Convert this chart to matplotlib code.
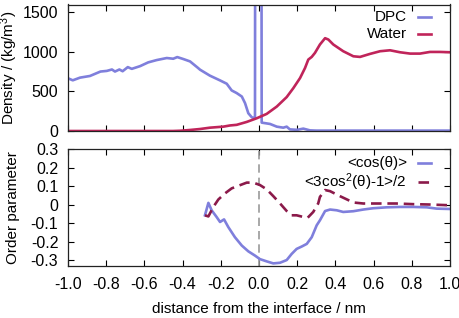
import matplotlib
matplotlib.use("Agg")
import matplotlib.pyplot as plt

plt.rcParams['font.family'] = ['Liberation Sans', 'DejaVu Sans']
plt.rcParams['mathtext.default'] = 'regular'
plt.rcParams['font.size'] = 11

# ---- data ----
dpc_x = [-1.0, -0.975, -0.937, -0.885, -0.83, -0.797, -0.77, -0.754, -0.731, -0.714,
         -0.687, -0.666, -0.623, -0.58, -0.536, -0.483, -0.449, -0.428, -0.396, -0.361,
         -0.318, -0.309, -0.257, -0.204, -0.169, -0.143, -0.117, -0.09, -0.073, -0.056,
         -0.038, -0.026, -0.021, -0.019, 0.012, 0.014, 0.058, 0.093, 0.127, 0.145,
         0.162, 0.2, 0.232, 0.267, 0.3, 0.4, 0.5, 0.6, 0.7, 0.8, 0.9, 1.0]
dpc_y = [667, 641, 675, 696, 752, 760, 778, 752, 778, 756,
         808, 786, 820, 868, 897, 923, 914, 935, 910, 880,
         795, 776, 700, 640, 598, 513, 480, 436, 352, 225,
         174, 162, 160, 5000, 5000, 106, 89, 55, 42, 55,
         20, 15, 30, 8, 5, 5, 5, 5, 5, 5, 5, 5]

water_x = [-1.0, -0.45, -0.414, -0.361, -0.309, -0.257, -0.187, -0.152, -0.117, -0.064,
           -0.012, 0.04, 0.093, 0.145, 0.18, 0.215, 0.241, 0.258, 0.276, 0.293,
           0.319, 0.346, 0.363, 0.389, 0.441, 0.494, 0.529, 0.581, 0.634, 0.686,
           0.738, 0.791, 0.843, 0.895, 0.948, 1.0]
water_y = [0, 0, 3, 13, 25, 42, 55, 70, 78, 115,
           161, 216, 309, 429, 543, 670, 797, 903, 937, 988,
           1094, 1174, 1157, 1094, 1009, 945, 937, 975, 1009, 1021,
           996, 979, 979, 1000, 1000, 996]

cos_x = [-0.283, -0.265, -0.248, -0.222, -0.204, -0.183, -0.161, -0.126, -0.09, -0.056,
         -0.021, 0.005, 0.04, 0.075, 0.11, 0.145, 0.171, 0.197, 0.224, 0.25,
         0.276, 0.302, 0.319, 0.346, 0.372, 0.407, 0.441, 0.494, 0.546, 0.598,
         0.669, 0.738, 0.808, 0.878, 0.93, 1.0]
cos_y = [-0.057, 0.01, -0.03, -0.066, -0.093, -0.079, -0.12, -0.175, -0.22, -0.251,
         -0.274, -0.293, -0.305, -0.316, -0.3125, -0.298, -0.265, -0.238, -0.225, -0.211,
         -0.175, -0.111, -0.084, -0.034, -0.026, -0.03, -0.039, -0.035, -0.026, -0.019,
         -0.014, -0.012, -0.012, -0.014, -0.021, -0.023]

p2_x = [-0.283, -0.265, -0.239, -0.213, -0.178, -0.143, -0.108, -0.064, -0.03, 0.005,
        0.04, 0.075, 0.11, 0.145, 0.171, 0.197, 0.232, 0.255, 0.284, 0.31,
        0.319, 0.346, 0.372, 0.424, 0.494, 0.546, 0.634, 0.72, 0.808, 0.895, 1.0]
p2_y = [-0.057, -0.063, -0.012, 0.028, 0.061, 0.088, 0.102, 0.119, 0.119, 0.106,
        0.083, 0.046, 0.007, -0.034, -0.057, -0.057, -0.066, -0.07, -0.039, 0.007,
        0.042, 0.079, 0.073, 0.046, 0.012, 0.0065, 0.0065, 0.0065, 0.003, 0.001, -0.003]

xticks = [-1.0, -0.8, -0.6, -0.4, -0.2, 0.0, 0.2, 0.4, 0.6, 0.8, 1.0]
xticklabels = ['-1.0', '-0.8', '-0.6', '-0.4', '-0.2', '0.0', '0.2', '0.4', '0.6', '0.8', '1.0']
dens_ticks = [0, 500, 1000, 1500]
ord_ticks = [-0.3, -0.2, -0.1, 0, 0.1, 0.2, 0.3]
ord_labels = ['-0.3', '-0.2', '-0.1', '0', '0.1', '0.2', '0.3']

c_blue = '#7f7fdc'
c_water = '#c0245a'
c_p2 = '#8b1a4a'

W, H = 459, 318
fig = plt.figure(figsize=(W / 100, H / 100), dpi=100)

def frac(l, t, r, b):
    return [l / W, 1 - b / H, (r - l) / W, (b - t) / H]

ax1 = fig.add_axes(frac(68, 4.5, 450, 131))
ax2 = fig.add_axes(frac(68, 149, 450, 266))

lw = 1.9
ax1.plot(dpc_x, dpc_y, color=c_blue, lw=lw)
ax1.plot(water_x, water_y, color=c_water, lw=lw)
ax1.set_xlim(-1.0, 1.0)
ax1.set_ylim(0, 1600)
ax1.set_xticks(xticks)
ax1.set_xticklabels([])
ax1.set_yticks(dens_ticks)
ax1.set_yticklabels([str(t) for t in dens_ticks])
ax1.set_ylabel('Density / (kg/m$^3$)')
ax1.yaxis.set_label_coords(-0.125, 0.5)

ax2.axvline(0.0, color='#999999', lw=1.2, dashes=(5, 3))
ax2.plot(cos_x, cos_y, color=c_blue, lw=lw)
ax2.plot(p2_x, p2_y, color=c_p2, lw=lw, dashes=(4, 2.2))
ax2.set_xlim(-1.0, 1.0)
ax2.set_ylim(-0.33, 0.3)
ax2.set_xticks(xticks)
ax2.set_xticklabels(xticklabels)
ax2.set_yticks(ord_ticks)
ax2.set_yticklabels(ord_labels)
ax2.set_ylabel('Order parameter')
ax2.yaxis.set_label_coords(-0.125, 0.5)
ax2.set_xlabel('distance from the interface / nm', labelpad=7)

for ax in (ax1, ax2):
    ax.tick_params(direction='in', top=True, right=True, length=4, width=0.8,
                   labelsize=11.5, pad=7)
    ax.tick_params(axis='x', pad=8)
    for s in ax.spines.values():
        s.set_linewidth(0.9)
        s.set_color('#222222')

# legends (manual, right-aligned text like gnuplot)
def key(ax, y, label, color, dashes=None):
    ax.text(0.887, y, label, transform=ax.transAxes, ha='right', va='center', fontsize=11)
    kw = dict(transform=ax.transAxes, color=color, lw=lw, clip_on=False)
    if dashes:
        kw['dashes'] = dashes
    ax.plot([0.916, 0.950], [y, y], **kw)

key(ax1, 0.901, 'DPC', c_blue)
key(ax1, 0.767, 'Water', c_water)
key(ax2, 0.883, '<cos(θ)>', c_blue)
key(ax2, 0.72, '<3cos$^2$(θ)-1>/2', c_p2, dashes=(4, 2.2))

fig.savefig('out.png', dpi=100)
